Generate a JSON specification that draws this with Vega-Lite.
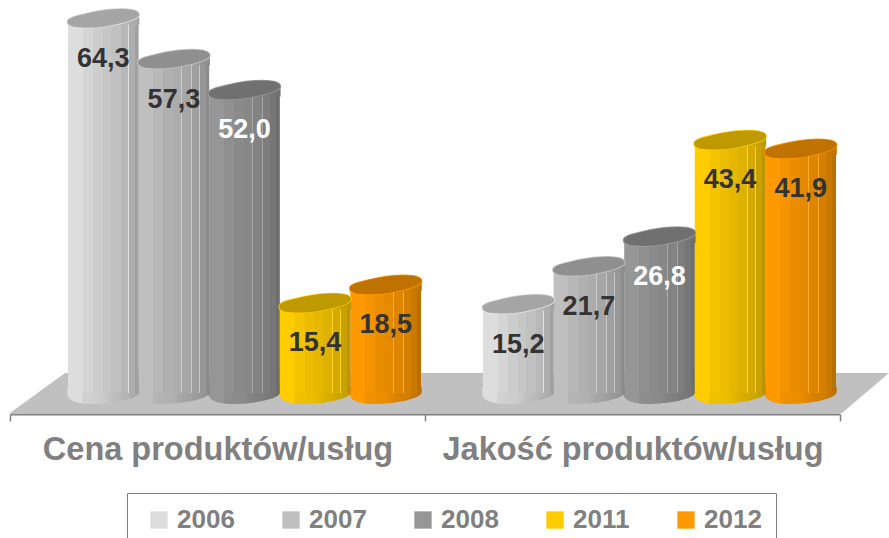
{
"$schema":"https://vega.github.io/schema/vega-lite/v6.json",
"width":830,"height":414,
"autosize":{"type":"none"},
"padding":{"left":10,"top":0,"right":49,"bottom":124},
"background":"white",
"config":{"view":{"stroke":null},"locale":{"number":{"decimal":",","thousands":" ","grouping":[3],"currency":["","zł"]}},"font":"Liberation Sans"},
"datasets":{
"bars":[
{"cat":"Cena produktów/usług","year":"2006","value":64.3},
{"cat":"Cena produktów/usług","year":"2007","value":57.3},
{"cat":"Cena produktów/usług","year":"2008","value":52.0},
{"cat":"Cena produktów/usług","year":"2011","value":15.4},
{"cat":"Cena produktów/usług","year":"2012","value":18.5},
{"cat":"Jakość produktów/usług","year":"2006","value":15.2},
{"cat":"Jakość produktów/usług","year":"2007","value":21.7},
{"cat":"Jakość produktów/usług","year":"2008","value":26.8},
{"cat":"Jakość produktów/usług","year":"2011","value":43.4},
{"cat":"Jakość produktów/usług","year":"2012","value":41.9}
],
"floor":[{"cat":"Cena produktów/usług","value":0}]
},
"data":{"name":"bars"},
"encoding":{
"x":{"field":"cat","type":"nominal","title":null,"sort":null,
"scale":{"paddingInner":0,"paddingOuter":0,"domain":["Cena produktów/usług","Jakość produktów/usług"]},
"axis":{"labelAngle":0,"labelFontSize":32.5,"labelFontWeight":"bold","labelColor":"#808080","labelFont":"Liberation Sans","labelPadding":12,"tickBand":"extent","tickSize":7,"tickColor":"#808080","tickWidth":1.5,"domainColor":"#808080","domainWidth":2,"grid":false,"labelLimit":420}},
"xOffset":{"field":"year","type":"nominal","scale":{"range":[58,411],"paddingInner":0,"paddingOuter":0}},
"y":{"field":"value","type":"quantitative","title":null,"axis":null,"scale":{"domain":[-3.6,67.53],"nice":false,"zero":false}}
},
"layer":[
{"data":{"name":"floor"},
 "mark":{"type":"point","filled":true,"opacity":1,"size":4,"color":"#C0C0C0","shape":"M0,20 L55,-20 L879,-20 L832,20 Z"},
 "encoding":{"x":{"field":"cat","type":"nominal","bandPosition":0},"xOffset":{"value":0},"y":{"field":"value","type":"quantitative"}}},
{"mark":{"type":"point","filled":true,"opacity":1,"size":4,"shape":"M-36,-6 L-36,1 C-36,8 -24,11 -12,11 C8,11 36,6 36,-1 L36,-6 Z"},
 "encoding":{"y":{"datum":0},
  "color":{"field":"year","type":"nominal","scale":{"domain":["2006","2007","2008","2011","2012"],"range":["#DDDDDD","#BFBFBF","#969696","#FFCC00","#FF9900"]}}}},
{"mark":{"type":"point","filled":true,"opacity":1,"size":4,"shape":"M-36,-6 L-36,1 C-36,8 -24,11 -12,11 C8,11 36,6 36,-1 L36,-6 Z",
  "color":{"gradient":"linear","x1":0,"x2":1,"y1":0,"y2":0,"stops":[{"offset":0,"color":"rgba(0,0,0,0)"},{"offset":0.21,"color":"rgba(0,0,0,0)"},{"offset":0.21,"color":"rgba(0,0,0,0.05)"},{"offset":0.49,"color":"rgba(0,0,0,0.08)"},{"offset":0.61,"color":"rgba(0,0,0,0.13)"},{"offset":0.86,"color":"rgba(0,0,0,0.2)"},{"offset":1,"color":"rgba(0,0,0,0.27)"}]}},
 "encoding":{"y":{"datum":0}}},
{"mark":{"type":"bar","yOffset":3,"y2Offset":0,"opacity":1},
 "encoding":{"y2":{"datum":0},
  "color":{"field":"year","type":"nominal","legend":{"orient":"none","legendX":117,"legendY":493,"direction":"horizontal","columns":5,"title":null,"symbolType":"square","symbolSize":300,"symbolStrokeWidth":0,"symbolOffset":5,"labelFontSize":26,"labelFontWeight":"bold","labelColor":"#808080","labelFont":"Liberation Sans","labelOffset":5,"columnPadding":38,"strokeColor":"#808080","padding":14,"fillColor":"white","labelLimit":100}}}},
{"mark":{"type":"bar","yOffset":3,
  "color":{"gradient":"linear","x1":0,"x2":1,"y1":0,"y2":0,"stops":[
   {"offset":0,"color":"rgba(0,0,0,0)"},{"offset":0.21,"color":"rgba(0,0,0,0)"},
   {"offset":0.21,"color":"rgba(0,0,0,0.04)"},{"offset":0.35,"color":"rgba(0,0,0,0.04)"},
   {"offset":0.35,"color":"rgba(0,0,0,0.08)"},{"offset":0.49,"color":"rgba(0,0,0,0.08)"},
   {"offset":0.49,"color":"rgba(0,0,0,0.1)"},{"offset":0.605,"color":"rgba(0,0,0,0.1)"},
   {"offset":0.605,"color":"rgba(255,255,255,0.18)"},{"offset":0.615,"color":"rgba(255,255,255,0.18)"},
   {"offset":0.615,"color":"rgba(0,0,0,0.13)"},{"offset":0.745,"color":"rgba(0,0,0,0.13)"},
   {"offset":0.745,"color":"rgba(255,255,255,0.15)"},{"offset":0.755,"color":"rgba(255,255,255,0.15)"},
   {"offset":0.755,"color":"rgba(0,0,0,0.17)"},{"offset":0.855,"color":"rgba(0,0,0,0.17)"},
   {"offset":0.855,"color":"rgba(255,255,255,0.12)"},{"offset":0.865,"color":"rgba(255,255,255,0.12)"},
   {"offset":0.865,"color":"rgba(0,0,0,0.21)"},{"offset":0.95,"color":"rgba(0,0,0,0.21)"},
   {"offset":0.95,"color":"rgba(0,0,0,0.27)"},{"offset":1,"color":"rgba(0,0,0,0.27)"}]}},
 "encoding":{"y2":{"datum":0}}},
{"mark":{"type":"point","filled":true,"opacity":1,"size":4,"shape":"M-36,4 L36,-4 L36,6 L-36,6 Z"},
 "encoding":{"color":{"field":"year","type":"nominal"}}},
{"mark":{"type":"point","filled":true,"opacity":1,"size":4,"shape":"M-36,4 L36,-4 L36,6 L-36,6 Z",
  "color":{"gradient":"linear","x1":0,"x2":1,"y1":0,"y2":0,"stops":[{"offset":0,"color":"rgba(0,0,0,0)"},{"offset":0.21,"color":"rgba(0,0,0,0)"},{"offset":0.21,"color":"rgba(0,0,0,0.05)"},{"offset":0.49,"color":"rgba(0,0,0,0.09)"},{"offset":0.75,"color":"rgba(0,0,0,0.15)"},{"offset":1,"color":"rgba(0,0,0,0.27)"}]}}},
{"mark":{"type":"point","filled":true,"opacity":1,"size":4,"strokeWidth":1.5,"shape":"M-36,3 C-36,-2 -22,-4 -10,-7 C0,-9 8,-10 18,-10 C30,-10 36,-8 36,-4 C36,-1 30,1 20,4 C8,7 -2,9 -14,9 C-28,9 -36,8 -36,3 Z"},
 "encoding":{"color":{"field":"year","type":"nominal"},
  "stroke":{"field":"year","type":"nominal","legend":null,"scale":{"domain":["2006","2007","2008","2011","2012"],"range":["#E4E4E4","#C8C8C8","#A0A0A0","#FFCC00","#FF9900"]}}}},
{"mark":{"type":"point","filled":true,"opacity":1,"size":4,"color":"rgba(0,0,0,0.25)","shape":"M-36,3 C-36,-2 -22,-4 -10,-7 C0,-9 8,-10 18,-10 C30,-10 36,-8 36,-4 C36,-1 30,1 20,4 C8,7 -2,9 -14,9 C-28,9 -36,8 -36,3 Z"}},
{"mark":{"type":"text","font":"Liberation Sans","fontSize":27,"fontWeight":"bold","baseline":"middle","align":"center","yOffset":40},
 "encoding":{"text":{"field":"value","type":"quantitative","format":".1f"},
  "color":{"condition":{"test":"datum.year==='2008'","value":"#FFFFFF"},"value":"#333333"}}}
]
}
